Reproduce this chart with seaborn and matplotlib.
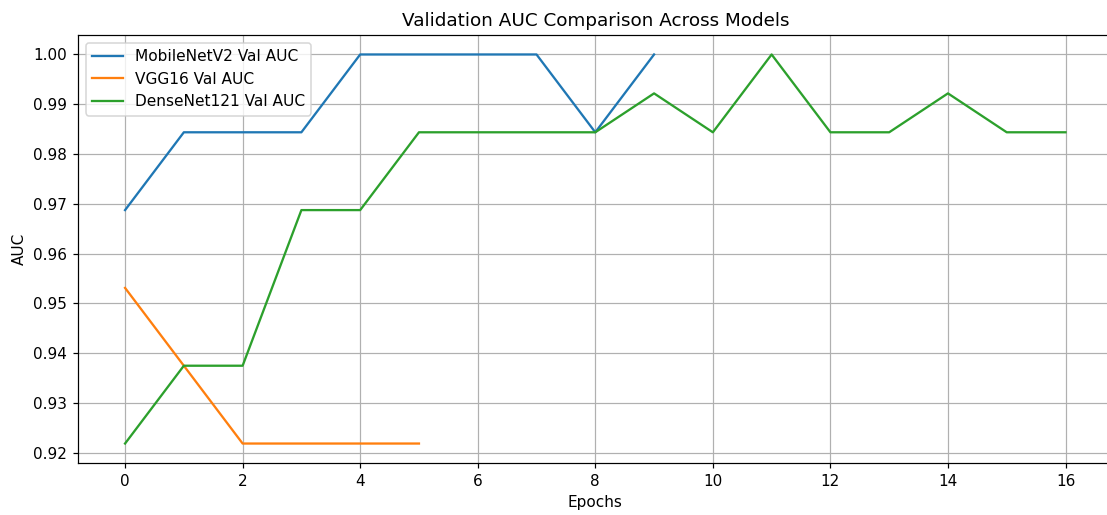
import matplotlib
matplotlib.use("Agg")
import matplotlib.pyplot as plt
import seaborn as sns
import pandas as pd

mobilenet_auc = [0.96875, 0.984375, 0.984375, 0.984375, 1.0, 1.0, 1.0, 1.0, 0.984375, 1.0]
vgg16_auc = [0.953125, 0.9375, 0.921875, 0.921875, 0.921875, 0.921875]
densenet_auc = [0.921875, 0.9375, 0.9375, 0.96875, 0.96875, 0.984375, 0.984375, 0.984375,
                0.984375, 0.9921875, 0.984375, 1.0, 0.984375, 0.984375, 0.9921875, 0.984375, 0.984375]

series = [("MobileNetV2 Val AUC", mobilenet_auc),
          ("VGG16 Val AUC", vgg16_auc),
          ("DenseNet121 Val AUC", densenet_auc)]

DPI = 110
fig = plt.figure(figsize=(1107 / DPI, 515 / DPI), dpi=DPI)
ax = fig.add_axes([0.0705, 0.101, 0.9345, 0.831])
colors = ["#1f77b4", "#ff7f0e", "#2ca02c"]
for (name, vals), c in zip(series, colors):
    df = pd.DataFrame({"Epochs": range(len(vals)), "AUC": vals})
    sns.lineplot(data=df, x="Epochs", y="AUC", ax=ax, label=name, color=c, linewidth=1.5)

ax.set_title("Validation AUC Comparison Across Models", fontsize=12)
ax.set_xlabel("Epochs")
ax.set_ylabel("AUC")
ax.set_xticks(range(0, 17, 2))
ax.grid(True)
ax.legend(loc="upper left", fontsize=10.1)
fig.savefig("out.png", dpi=DPI)
